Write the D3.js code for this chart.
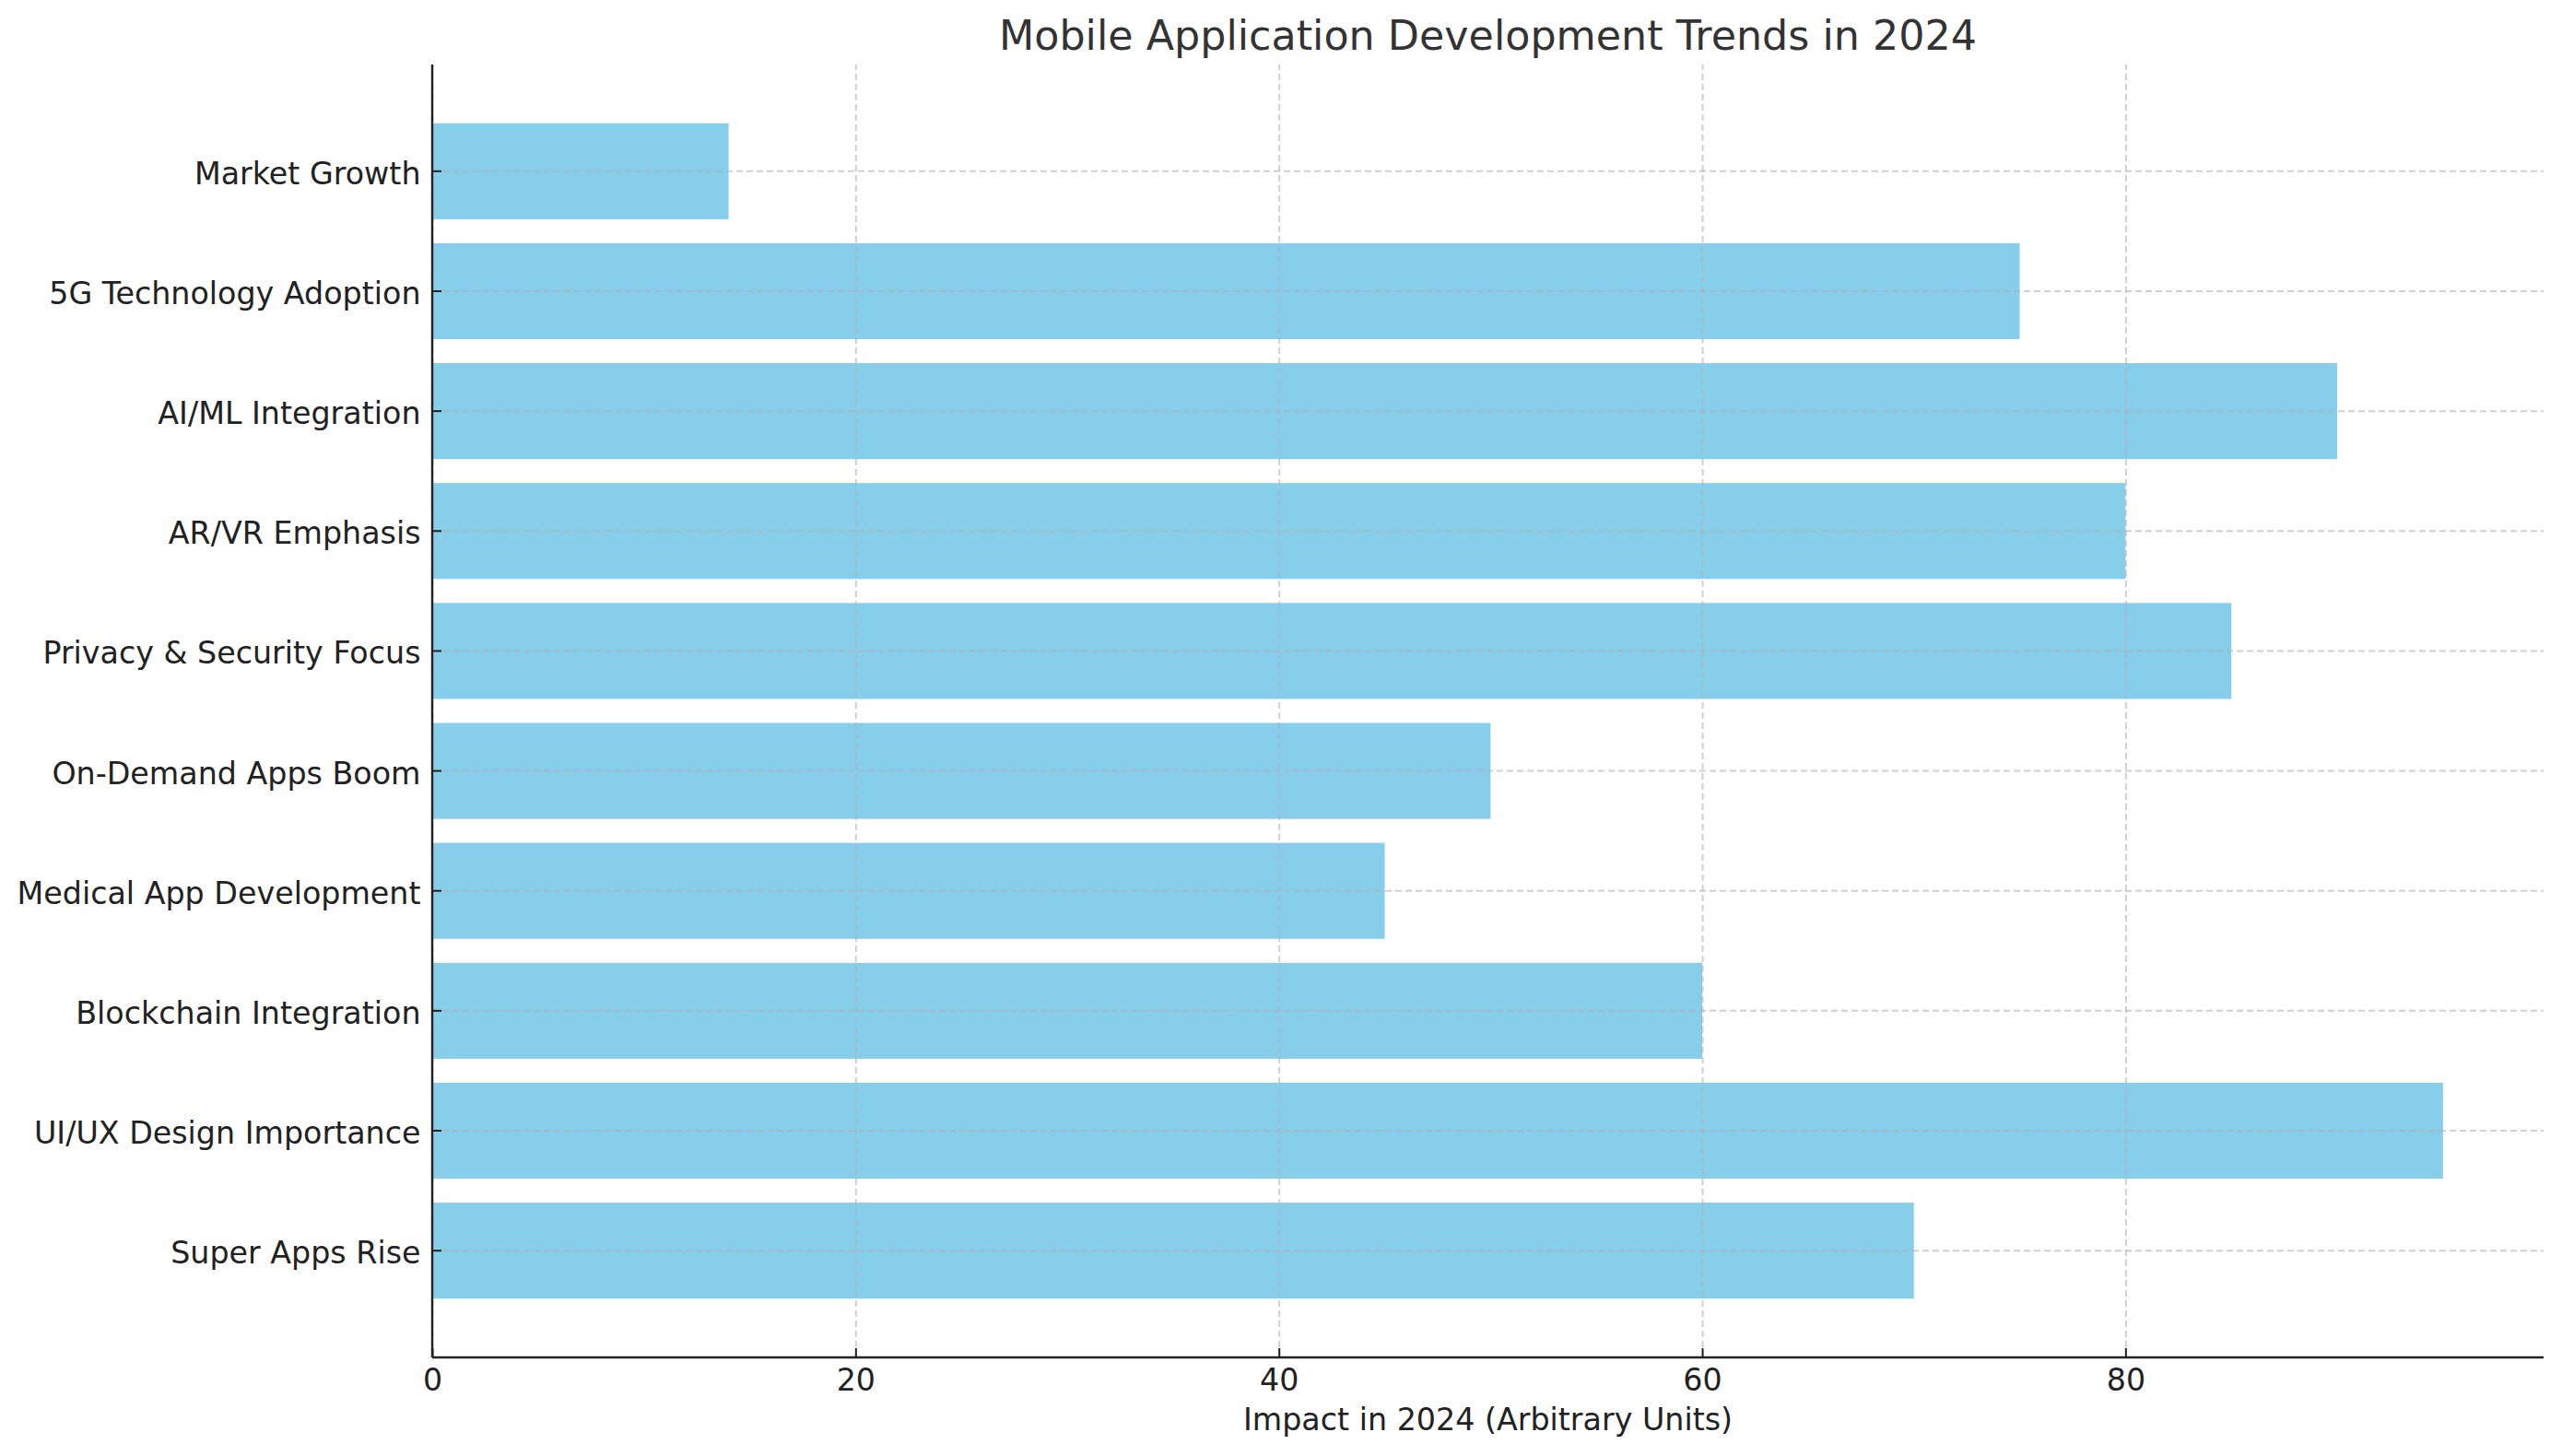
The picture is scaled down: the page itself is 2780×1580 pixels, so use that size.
<!DOCTYPE html>
<html>
<head>
<meta charset="utf-8">
<script src="https://cdn.jsdelivr.net/npm/d3@7"></script>
<style>
  body { margin: 0; background: #fff; }
  svg { display: block; font-family: "DejaVu Sans", sans-serif; }
</style>
</head>
<body>
<div class="chart"></div>
<script>
// data, bottom to top as in the picture
const categories = ['Super Apps Rise', 'UI/UX Design Importance', 'Blockchain Integration',
  'Medical App Development', 'On-Demand Apps Boom', 'Privacy & Security Focus',
  'AR/VR Emphasis', 'AI/ML Integration', '5G Technology Adoption', 'Market Growth'];
const impact = [70, 95, 60, 45, 50, 85, 80, 90, 75, 14];
const xTicks = [0, 20, 40, 60, 80];

const W = 2780, H = 1580;
const plotL = 469, plotR = 2760, plotT = 70, plotB = 1473;

const svg = d3.select('.chart').append('svg')
  .attr('width', W).attr('height', H);

// scales
const x = d3.scaleLinear().domain([0, d3.max(impact) * 1.05]).range([plotL, plotR]);
const y = d3.scaleBand().domain(categories.slice().reverse())
  .range([plotT, plotB]).paddingInner(0.2).paddingOuter(0.49);

// bars
svg.append('g').selectAll('rect')
  .data(categories)
  .enter().append('rect')
  .attr('x', x(0))
  .attr('y', d => y(d))
  .attr('width', (d, i) => x(impact[i]) - x(0))
  .attr('height', y.bandwidth())
  .attr('fill', '#87CEEB');

// grid on top of the bars
const gridX = svg.append('g').attr('transform', `translate(0,${plotB})`)
  .call(d3.axisBottom(x).tickValues(xTicks).tickSize(-(plotB - plotT)).tickFormat(''));
const gridY = svg.append('g').attr('transform', `translate(${plotL},0)`)
  .call(d3.axisLeft(y).tickSize(-(plotR - plotL)).tickFormat(''));
[gridX, gridY].forEach(g => {
  g.select('.domain').remove();
  g.selectAll('line')
    .attr('stroke', '#b0b0b0').attr('stroke-opacity', 0.6)
    .attr('stroke-width', 2).attr('stroke-dasharray', '7,4');
});

// axes (ticks point inward)
const ax = svg.append('g').attr('transform', `translate(0,${plotB})`)
  .call(d3.axisBottom(x).tickValues(xTicks).tickSizeInner(-10).tickSizeOuter(0).tickPadding(12));
const ay = svg.append('g').attr('transform', `translate(${plotL},0)`)
  .call(d3.axisLeft(y).tickSizeInner(-10).tickSizeOuter(0).tickPadding(12.5));

ax.select('.domain').attr('d', `M${plotL},0H${plotR}`);
ay.select('.domain').attr('d', `M0,${plotT}V${plotB}`);
[ax, ay].forEach(g => {
  g.select('.domain').attr('stroke', '#222').attr('stroke-width', 2.4);
  g.selectAll('.tick line').attr('stroke', '#222').attr('stroke-width', 2);
  g.selectAll('.tick text')
    .attr('fill', '#222')
    .style('font-size', '33.3px')
    .style('font-family', '"DejaVu Sans", sans-serif');
});
// labels sit a little lower, like matplotlib's center_baseline
ay.selectAll('.tick text').attr('dy', '0.42em');

// title and axis label
svg.append('text')
  .attr('x', (plotL + plotR) / 2).attr('y', 54)
  .attr('text-anchor', 'middle')
  .attr('fill', '#333')
  .style('font-size', '44.4px')
  .text('Mobile Application Development Trends in 2024');

svg.append('text')
  .attr('x', (plotL + plotR) / 2).attr('y', 1552)
  .attr('text-anchor', 'middle')
  .attr('fill', '#222')
  .style('font-size', '33.3px')
  .text('Impact in 2024 (Arbitrary Units)');
</script>
</body>
</html>
